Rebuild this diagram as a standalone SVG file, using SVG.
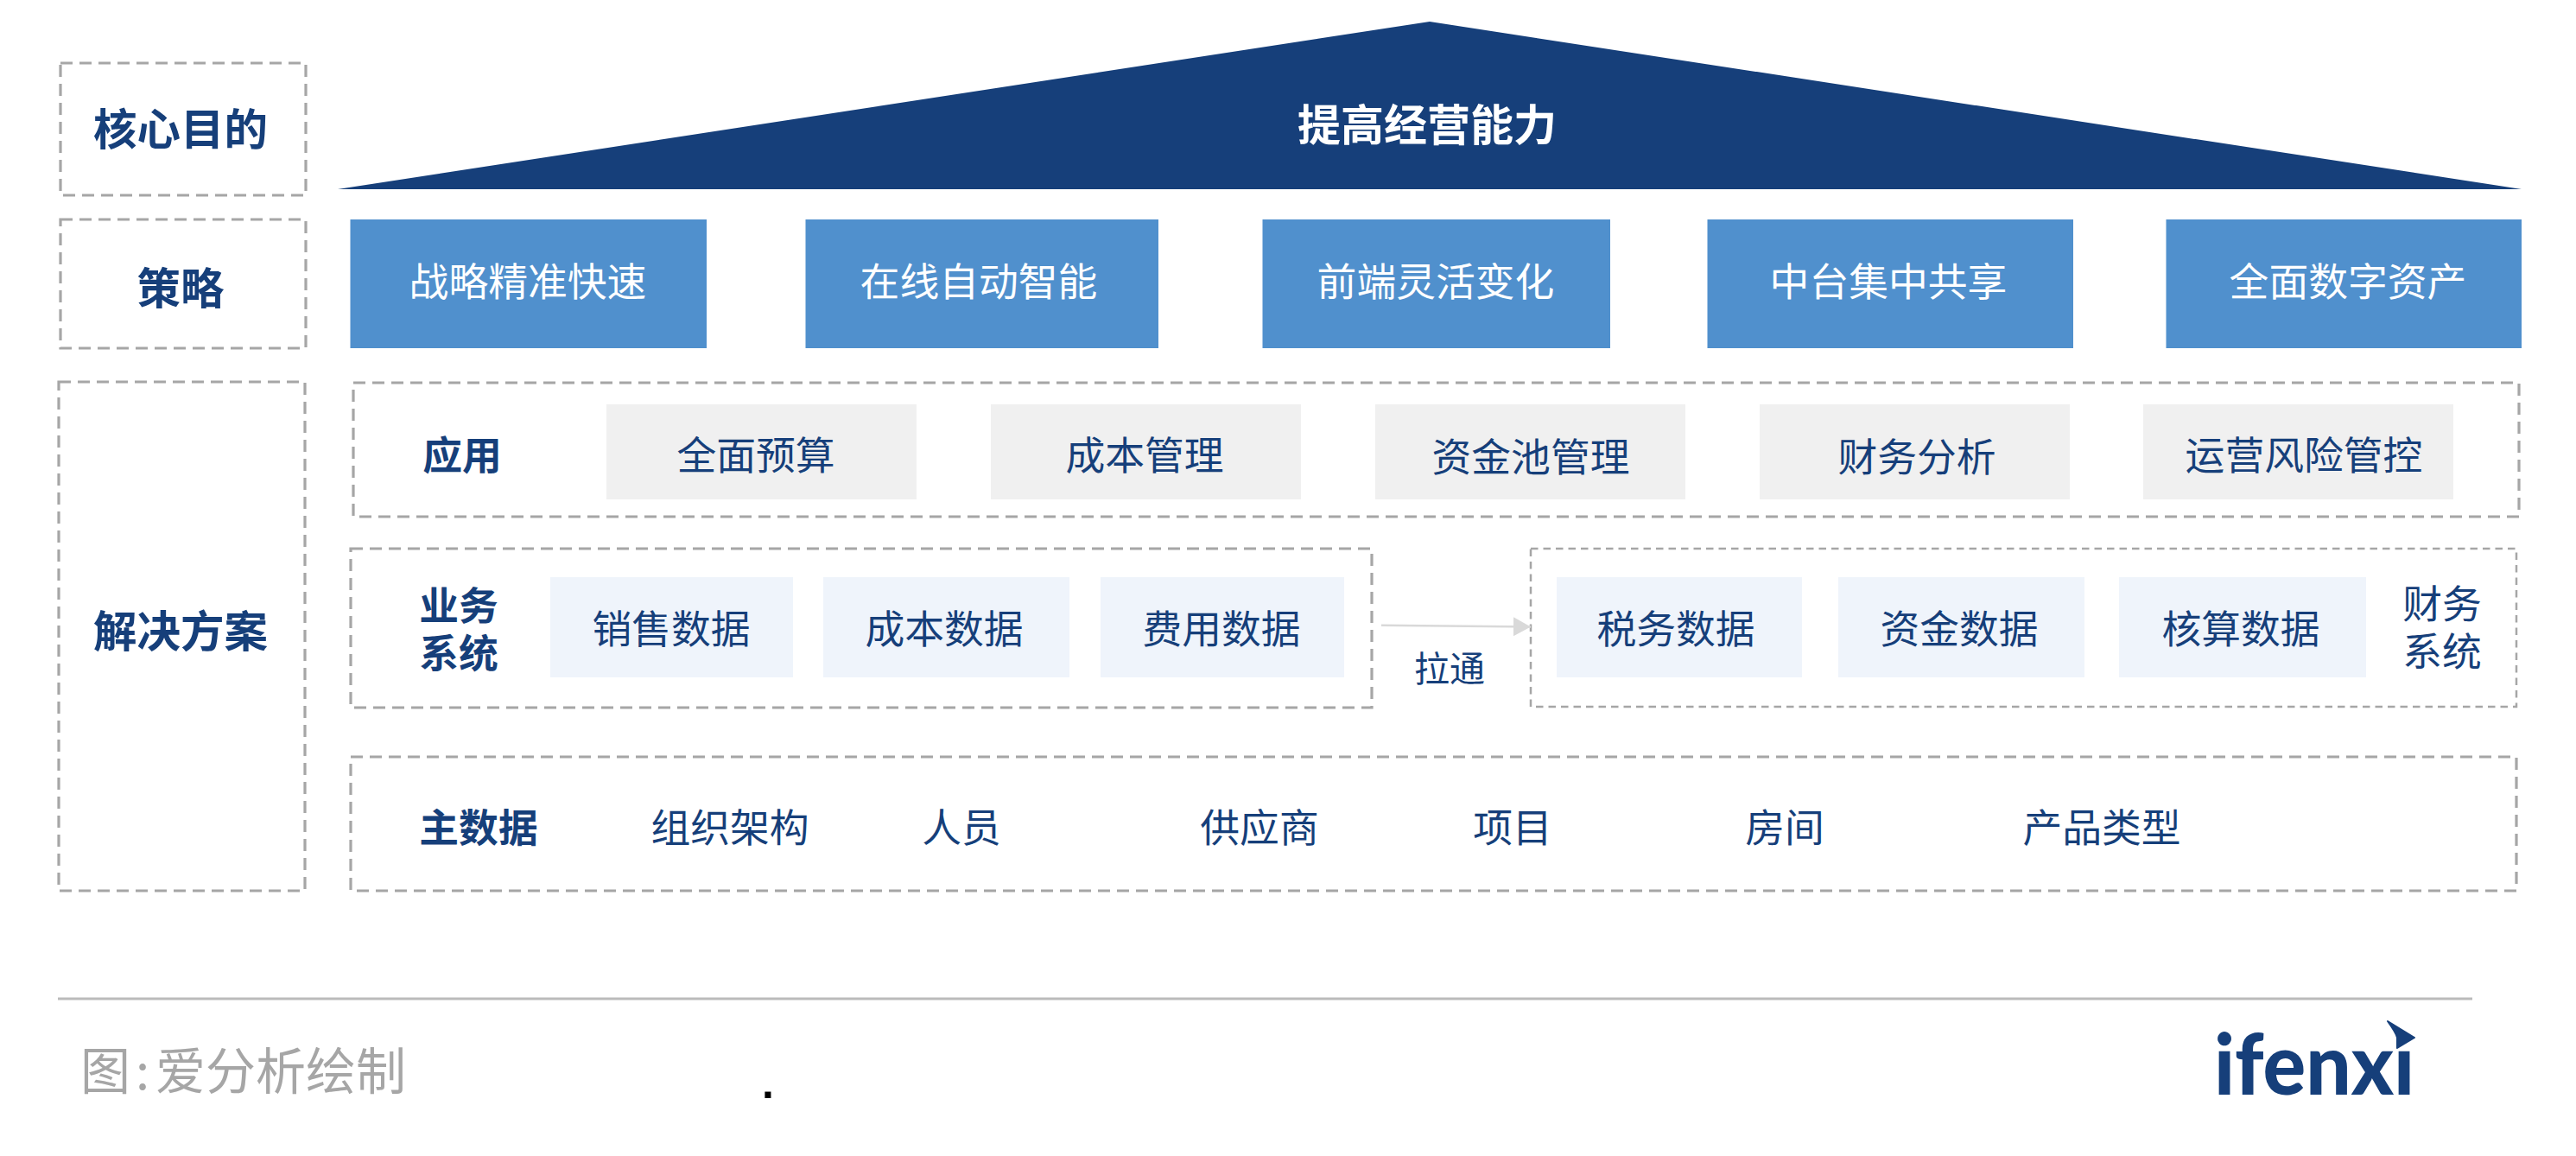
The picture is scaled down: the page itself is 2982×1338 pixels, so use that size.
<svg xmlns="http://www.w3.org/2000/svg" width="2982" height="1338" viewBox="0 0 2982 1338">
<style>
text{font-family:"Noto Sans CJK SC","Noto Sans",sans-serif;text-anchor:middle;fill:#163F7A;font-size:45.8px}
.b{font-weight:700}
.h{font-weight:700;font-size:50.5px}
.w{fill:#fff}
.d{fill:none;stroke:#A6A6A6;stroke-width:3.2;stroke-dasharray:14 8}
.t{fill:none;stroke:#A6A6A6;stroke-width:2.5;stroke-dasharray:8.5 6}
.s{fill:#5090CD}.g{fill:#F0F0F0}.l{fill:#EFF4FB}
</style>
<defs><marker id="ah" markerUnits="userSpaceOnUse" markerWidth="20" markerHeight="22" refX="20" refY="11" orient="auto"><path d="M0 0L20 11L0 22Z" fill="#D9D9D9"/></marker></defs>
<rect width="2982" height="1338" fill="#fff"/>
<g id="label-goal"><rect class="d" x="70" y="73" width="284" height="153"/><text class="h" x="209" y="168">核心目的</text></g>
<g id="label-strategy"><rect class="d" x="70" y="254" width="284" height="149"/><text class="h" x="209" y="352">策略</text></g>
<g id="label-solution"><rect class="d" x="68" y="442" width="285" height="589"/><text class="h" x="209" y="749">解决方案</text></g>
<g id="roof"><polygon points="391,219 1655,25 2919,219" fill="#163F7A"/><text class="b w" x="1652" y="163" style="font-size:50px">提高经营能力</text></g>
<g id="s1"><rect class="s" x="405.500" y="254" width="412.500" height="149"/><text class="w" x="611" y="343">战略精准快速</text></g>
<g id="s2"><rect class="s" x="932.500" y="254" width="408.500" height="149"/><text class="w" x="1133" y="343">在线自动智能</text></g>
<g id="s3"><rect class="s" x="1461.500" y="254" width="402.500" height="149"/><text class="w" x="1662" y="343">前端灵活变化</text></g>
<g id="s4"><rect class="s" x="1976.500" y="254" width="423.500" height="149"/><text class="w" x="2186" y="343">中台集中共享</text></g>
<g id="s5"><rect class="s" x="2507.500" y="254" width="411.500" height="149"/><text class="w" x="2718" y="343">全面数字资产</text></g>
<g id="app"><rect class="d" x="409" y="443" width="2507" height="155"/><text class="b" x="535" y="544">应用</text></g>
<g id="a1"><rect class="g" x="702" y="468" width="359" height="110"/><text x="875" y="544">全面预算</text></g>
<g id="a2"><rect class="g" x="1147" y="468" width="359" height="110"/><text x="1325" y="544">成本管理</text></g>
<g id="a3"><rect class="g" x="1592" y="468" width="359" height="110"/><text x="1772" y="546">资金池管理</text></g>
<g id="a4"><rect class="g" x="2037" y="468" width="359" height="110"/><text x="2219" y="546">财务分析</text></g>
<g id="a5"><rect class="g" x="2481" y="468" width="359" height="110"/><text x="2667" y="544">运营风险管控</text></g>
<g id="biz"><rect class="d" x="406" y="635" width="1182" height="184"/><text class="b" x="531" y="718"><tspan x="531">业务</tspan><tspan x="531" dy="55">系统</tspan></text></g>
<g id="b1"><rect class="l" x="637" y="668" width="281" height="116"/><text x="777" y="745">销售数据</text></g>
<g id="b2"><rect class="l" x="953" y="668" width="285" height="116"/><text x="1093" y="745">成本数据</text></g>
<g id="b3"><rect class="l" x="1274" y="668" width="282" height="116"/><text x="1414" y="745">费用数据</text></g>
<g id="fin"><rect class="t" x="1772" y="635" width="1141" height="183"/><text x="2827" y="716"><tspan x="2827">财务</tspan><tspan x="2827" dy="55">系统</tspan></text></g>
<g id="f1"><rect class="l" x="1802" y="668" width="284" height="116"/><text x="1940" y="745">税务数据</text></g>
<g id="f2"><rect class="l" x="2128" y="668" width="285" height="116"/><text x="2268" y="745">资金数据</text></g>
<g id="f3"><rect class="l" x="2453" y="668" width="286" height="116"/><text x="2594" y="745">核算数据</text></g>
<g id="connectors"><line x1="1599" y1="723.7" x2="1772" y2="725.500" stroke="#D9D9D9" stroke-width="2.500" marker-end="url(#ah)"/></g>
<g id="lt"><text x="1678" y="789" style="font-size:41px">拉通</text></g>
<g id="master"><rect class="d" x="406" y="876" width="2507" height="155"/><text class="b" x="554" y="975">主数据</text>
<text x="845" y="975">组织架构</text><text x="1113" y="975">人员</text><text x="1458" y="975">供应商</text><text x="1751" y="975">项目</text><text x="2066" y="975">房间</text><text x="2433" y="975">产品类型</text></g>
<g id="footer"><line x1="67" y1="1156" x2="2862" y2="1156" stroke="#BBBBBB" stroke-width="3"/>
<text x="93" y="1261" style="font-size:58px;fill:#A6A6A6;text-anchor:start">图<tspan dx="6">:</tspan><tspan x="180">爱分析绘制</tspan></text>
<text x="889" y="1271" style="font-family:'Liberation Sans',sans-serif;font-weight:700;font-size:50px;fill:#000">.</text></g>
<g id="logo"><text x="2563" y="1267" textLength="232" lengthAdjust="spacingAndGlyphs" style="font-family:Lato,sans-serif;font-weight:900;font-size:98px;text-anchor:start">ifenxi</text>
<polygon points="2768,1170 2800,1170 2800,1216 2780,1216" fill="#fff"/>
<path d="M2764 1182L2795 1201L2775 1213L2775 1201Q2774 1196 2764 1182Z" fill="#163F7A" stroke="#163F7A" stroke-width="2" stroke-linejoin="round"/></g>
</svg>
